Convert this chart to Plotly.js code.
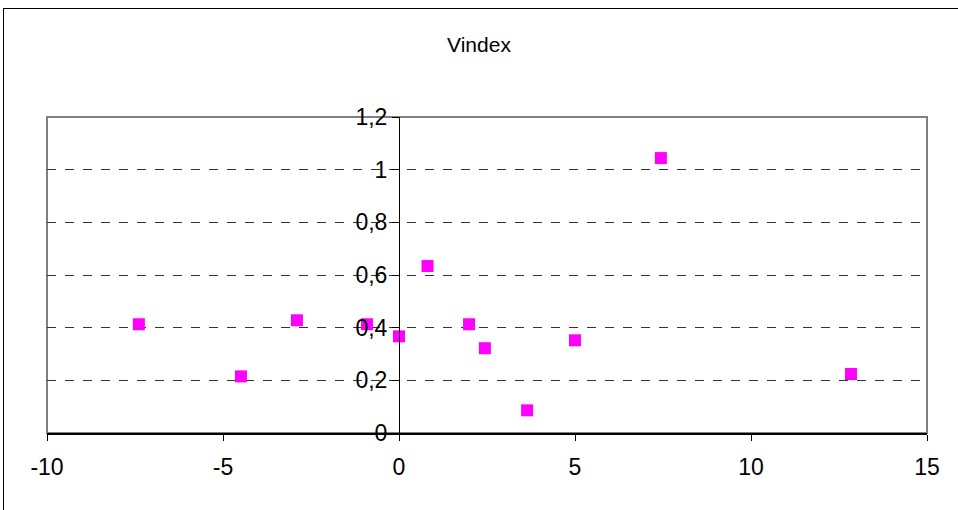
<!DOCTYPE html>
<html>
<head>
<meta charset="utf-8">
<script src="https://cdn.plot.ly/plotly-3.0.1.min.js"></script>
<style>
  html, body { margin: 0; padding: 0; background: #fff; }
  #wrap { position: relative; width: 958px; height: 510px; overflow: hidden; }
  #chart { position: absolute; left: 0; top: 0; width: 958px; height: 510px; }
  #frame { position: absolute; left: 3px; top: 8px; width: 1000px; height: 600px; border: 1px solid #000; pointer-events: none; }
</style>
</head>
<body>
<div id="wrap">
  <div id="chart"></div>
  <div id="frame"></div>
</div>
<script>
const xValues = [-7.39, -4.49, -2.90, -0.91, 0.0, 0.81, 1.99, 2.44, 3.64, 5.0, 7.44, 12.84];
const yValues = [0.413, 0.215, 0.428, 0.413, 0.367, 0.634, 0.413, 0.322, 0.086, 0.352, 1.044, 0.224];
const xTickVals = [-10, -5, 0, 5, 10, 15];
const xTickText = ["-10", "-5", "0", "5", "10", "15"];
const yTickVals = [0, 0.2, 0.4, 0.6, 0.8, 1, 1.2];
const yTickText = ["0", "0,2", "0,4", "0,6", "0,8", "1", "1,2"];
const chartTitle = "Vindex";

const font = {family: "Liberation Sans, Arial, sans-serif", size: 23, color: "#000"};

const trace = {
  type: "scatter",
  mode: "markers",
  x: xValues,
  y: yValues,
  marker: {symbol: "square", size: 12, color: "#FF00FF", line: {width: 0}},
  hoverinfo: "x+y",
  showlegend: false
};

const layout = {
  width: 958,
  height: 510,
  margin: {l: 47, r: 31, t: 117, b: 77},
  paper_bgcolor: "#fff",
  plot_bgcolor: "#fff",
  font: font,
  title: {text: chartTitle, x: 0.5, xanchor: "center", y: 1 - 45/510, yanchor: "middle", font: {family: font.family, size: 21, color: "#000"}},
  xaxis: {
    range: [-10, 15],
    tickvals: xTickVals,
    ticktext: xTickText,
    ticks: "outside",
    ticklen: 6,
    tickcolor: "#000",
    tickwidth: 1,
    showline: true,
    linecolor: "#000",
    linewidth: 1.5,
    showgrid: false,
    zeroline: false,
    ticklabelstandoff: 7,
    tickfont: font,
    fixedrange: true
  },
  yaxis: {
    range: [0, 1.2],
    tickvals: yTickVals,
    ticktext: yTickText,
    anchor: "free",
    position: 0.4,
    ticks: "outside",
    ticklen: 7,
    tickcolor: "#000",
    tickwidth: 1,
    showline: true,
    linecolor: "#000",
    linewidth: 1,
    showgrid: true,
    gridcolor: "#333",
    griddash: "dash",
    gridwidth: 1,
    zeroline: false,
    tickfont: font,
    fixedrange: true
  },
  shapes: [
    {type: "rect", xref: "paper", yref: "paper", x0: 0, x1: 1, y0: 0, y1: 1, line: {color: "#808080", width: 2}, layer: "below"}
  ]
};

Plotly.newPlot("chart", [trace], layout, {displayModeBar: false, staticPlot: true});
</script>
</body>
</html>
